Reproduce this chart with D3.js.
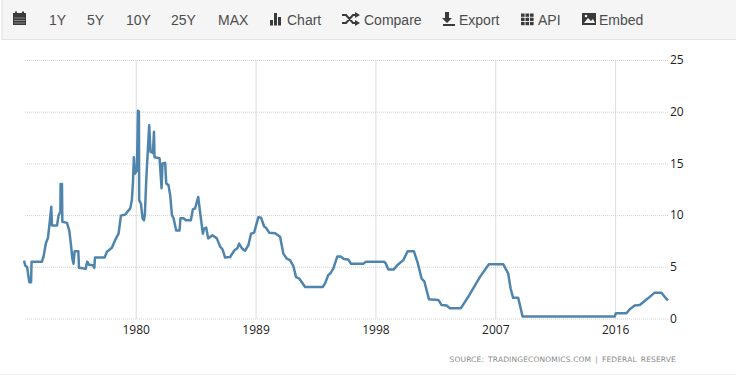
<!DOCTYPE html>
<html>
<head>
<meta charset="utf-8">
<script src="https://cdn.jsdelivr.net/npm/d3@7/dist/d3.min.js"></script>
<style>
    html, body { margin: 0; padding: 0; background: #fff; overflow: hidden; }
    svg { display: block; }
</style>
</head>
<body>
<div id="chart"></div>
<script>
// Values
const years = [1971.61, 1971.71, 1971.84, 1972.01, 1972.14, 1972.18, 1972.96, 1973.08, 1973.26, 1973.41,
    1973.53, 1973.66, 1973.71, 1974.09, 1974.21, 1974.34, 1974.36, 1974.46, 1974.49, 1974.84,
    1975.01, 1975.14, 1975.24, 1975.33, 1975.41, 1975.69, 1975.74, 1976.04, 1976.23, 1976.36,
    1976.49, 1976.79, 1976.89, 1976.94, 1977.66, 1977.84, 1978.21, 1978.46, 1978.71, 1978.89,
    1979.21, 1979.59, 1979.71, 1979.79, 1979.86, 1979.94, 1980.09, 1980.17, 1980.24, 1980.26,
    1980.39, 1980.51, 1980.62, 1980.69, 1980.79, 1981.01, 1981.11, 1981.22, 1981.29, 1981.37,
    1981.41, 1981.79, 1981.94, 1982.01, 1982.21, 1982.29, 1982.46, 1982.59, 1982.72, 1982.84,
    1983.04, 1983.29, 1983.36, 1983.59, 1983.77, 1984.14, 1984.29, 1984.46, 1984.69, 1985.04,
    1985.14, 1985.29, 1985.44, 1985.76, 1986.09, 1986.34, 1986.51, 1986.71, 1987.09, 1987.41,
    1987.64, 1987.76, 1987.97, 1988.21, 1988.46, 1988.66, 1988.89, 1989.21, 1989.41, 1989.64,
    1989.77, 1990.02, 1990.47, 1990.84, 1991.09, 1991.34, 1991.59, 1991.84, 1992.04, 1992.29,
    1992.72, 1994.04, 1994.22, 1994.46, 1994.64, 1994.84, 1995.14, 1995.39, 1995.64, 1995.96,
    1996.17, 1997.09, 1997.29, 1998.64, 1998.79, 1998.96, 1999.39, 1999.64, 2000.09, 2000.42,
    2000.89, 2001.17, 2001.47, 2001.67, 2002.02, 2002.72, 2002.97, 2003.35, 2003.59, 2004.42,
    2004.97, 2005.84, 2006.52, 2007.59, 2007.97, 2008.15, 2008.34, 2008.72, 2009.05, 2015.97,
    2016.05, 2016.85, 2017.10, 2017.47, 2017.85, 2018.47, 2018.97, 2019.48, 2019.72, 2019.97];

const rates = [5.6, 5.1, 5.0, 3.5, 3.5, 5.5, 5.5, 6.0, 7.3, 7.8,
    9.2, 10.8, 9.0, 9.0, 10.0, 10.3, 13.0, 13.0, 9.35, 9.25,
    8.5, 7.1, 5.8, 5.3, 6.5, 6.5, 4.9, 4.85, 4.8, 5.5,
    5.2, 5.15, 4.9, 5.9, 5.9, 6.45, 6.85, 7.6, 8.2, 9.95,
    10.05, 10.65, 11.45, 13.1, 15.6, 14.0, 14.35, 20.1, 20.0, 11.45,
    11.1, 9.7, 9.5, 10.15, 13.4, 18.7, 16.1, 16.1, 16.0, 18.05,
    15.6, 15.5, 12.6, 15.0, 15.05, 13.05, 12.9, 11.9, 10.0, 9.7,
    8.5, 8.5, 9.7, 9.7, 9.5, 9.5, 10.55, 10.65, 11.75, 8.2,
    8.7, 8.8, 7.75, 8.05, 7.75, 6.95, 6.7, 5.9, 5.95, 6.6,
    6.8, 7.25, 6.8, 6.55, 7.1, 8.2, 8.3, 9.8, 9.75, 8.9,
    8.8, 8.3, 8.25, 7.9, 6.25, 5.8, 5.65, 5.05, 4.0, 3.85,
    3.05, 3.05, 3.4, 4.2, 4.4, 4.85, 6.0, 6.0, 5.75, 5.7,
    5.3, 5.3, 5.5, 5.5, 5.3, 4.75, 4.75, 5.15, 5.65, 6.5,
    6.5, 5.4, 3.85, 3.6, 1.85, 1.8, 1.3, 1.25, 1.0, 1.0,
    2.1, 4.0, 5.25, 5.25, 4.35, 2.9, 2.0, 2.0, 0.2, 0.2,
    0.5, 0.5, 0.9, 1.25, 1.3, 1.95, 2.5, 2.5, 2.1, 1.75];

const yTicks = [0, 5, 10, 15, 20, 25];
const xTicks = [1980, 1989, 1998, 2007, 2016];
const rangeLabels = ["1Y", "5Y", "10Y", "25Y", "MAX"];
const menuLabels = ["Chart", "Compare", "Export", "API", "Embed"];
const sourceText = "SOURCE: TRADINGECONOMICS.COM | FEDERAL RESERVE";

const W = 736, H = 376;
const plot = { left: 24, right: 668, top: 60, bottom: 318.5 };

const svg = d3.select("#chart").append("svg")
    .attr("width", W)
    .attr("height", H);

// Toolbar
svg.append("rect").attr("x", 2).attr("y", -1).attr("width", W).attr("height", 40.5)
    .attr("fill", "#f5f5f5").attr("stroke", "#e2e2e2");

const toolbarText = (x, label) => svg.append("text")
    .attr("x", x).attr("y", 25)
    .attr("fill", "#4d4d4d")
    .style("font-family", "'Liberation Sans', Arial, sans-serif")
    .style("font-size", "14px")
    .text(label);

[49, 87, 126, 171, 218].forEach((x, i) => toolbarText(x, rangeLabels[i]));
[287, 364, 459, 538, 599].forEach((x, i) => toolbarText(x, menuLabels[i]));

// Toolbar icons
const icons = svg.append("g").attr("fill", "#3a3a3a");
// calendar
icons.append("rect").attr("x", 13).attr("y", 13).attr("width", 13).attr("height", 12);
icons.append("rect").attr("x", 15).attr("y", 11.5).attr("width", 2).attr("height", 3);
icons.append("rect").attr("x", 22).attr("y", 11.5).attr("width", 2).attr("height", 3);
icons.append("path").attr("d", "M14 18H25M14 20.5H25M14 23H25").attr("stroke", "#aaa").attr("stroke-width", 0.7);
// bars
icons.append("rect").attr("x", 270).attr("y", 20).attr("width", 3).attr("height", 5.5);
icons.append("rect").attr("x", 274).attr("y", 13).attr("width", 3).attr("height", 12.5);
icons.append("rect").attr("x", 278).attr("y", 17).attr("width", 3).attr("height", 8.5);
// shuffle
icons.append("path").attr("d", "M342 15H346L353 23H356M342 23H346L353 15H356")
    .attr("fill", "none").attr("stroke", "#3a3a3a").attr("stroke-width", 2);
icons.append("path").attr("d", "M355 12L360 15L355 18ZM355 20L360 23L355 26Z");
// download
icons.append("path").attr("d", "M445 12H449V18H452L447 23L442 18H445Z");
icons.append("rect").attr("x", 443).attr("y", 24).attr("width", 12).attr("height", 2);
// grid
d3.range(3).forEach(r => d3.range(3).forEach(c => {
    icons.append("rect").attr("x", 521 + c * 4.5).attr("y", 13.5 + r * 4.2).attr("width", 3.6).attr("height", 3.3);
}));
// picture
icons.append("rect").attr("x", 582).attr("y", 13).attr("width", 14).attr("height", 12);
icons.append("path").attr("d", "M584 23L588 18L591 21L593 19L595 23Z").attr("fill", "#f5f5f5");
icons.append("circle").attr("cx", 586).attr("cy", 16).attr("r", 1.3).attr("fill", "#f5f5f5");

// Scales
const x = d3.scaleLinear()
    .domain([years[0], years[years.length - 1]])
    .range([plot.left, plot.right]);

const y = d3.scaleLinear()
    .domain([0, 25])
    .range([plot.bottom, plot.top]);

// Horizontal grid and labels on the right
const yAxis = svg.append("g")
    .attr("transform", `translate(${plot.right},0)`)
    .call(d3.axisRight(y).tickValues(yTicks).tickSize(-(plot.right - plot.left)).tickPadding(2));

// Vertical grid and year labels
const xAxis = svg.append("g")
    .attr("transform", `translate(0,${plot.bottom})`)
    .call(d3.axisBottom(x).tickValues(xTicks).tickFormat(d3.format("d")).tickSize(-(plot.bottom - plot.top)).tickPadding(7));

[yAxis, xAxis].forEach(axis => {
    axis.select(".domain").remove();
    axis.selectAll("line")
        .attr("stroke", "#d2d2d2")
        .attr("stroke-dasharray", "1,1");
    axis.selectAll("text")
        .attr("fill", "#222")
        .style("font-family", "'Open Sans', sans-serif")
        .style("font-size", "12px");
});
// vertical ticks land between pixels, so they need a darker stroke to read the same
xAxis.selectAll("line").attr("stroke", "#b8b8b8");

// Rate line
const line = d3.line()
    .x((d, i) => x(years[i]))
    .y(d => y(d));

svg.append("path")
    .datum(rates)
    .attr("fill", "none")
    .attr("stroke", "#4f85ad")
    .attr("stroke-width", 2.5)
    .attr("stroke-linejoin", "round")
    .attr("d", line);

// Source
svg.append("text")
    .attr("x", 676)
    .attr("y", 362)
    .attr("text-anchor", "end")
    .attr("fill", "#8a8a8a")
    .style("font-family", "'DejaVu Sans', sans-serif")
    .style("font-size", "7.5px")
    .style("letter-spacing", "0.15px")
    .style("word-spacing", "1.5px")
    .text(sourceText);

svg.append("line").attr("x1", 0).attr("x2", W).attr("y1", 374.5).attr("y2", 374.5).attr("stroke", "#eeeeee");
</script>
</body>
</html>
